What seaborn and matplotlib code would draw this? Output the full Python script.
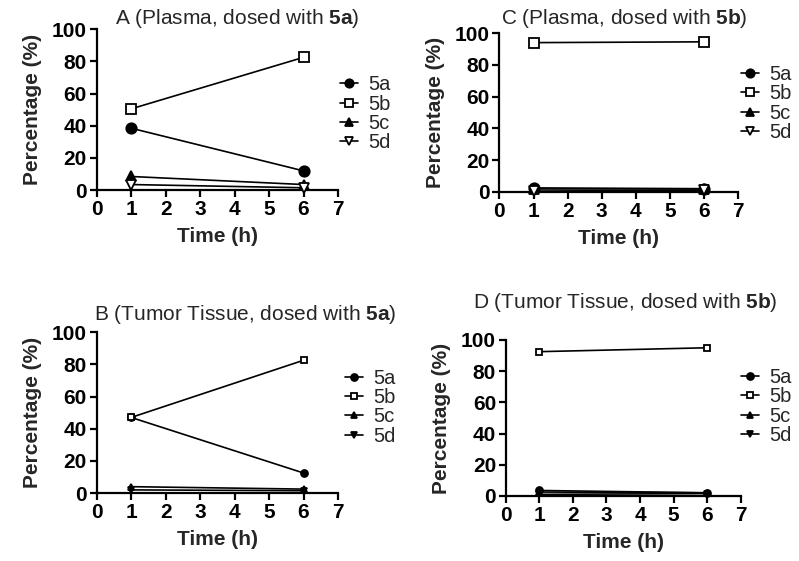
import matplotlib
matplotlib.use("Agg")
import matplotlib.pyplot as plt
import seaborn as sns
import pandas as pd

sns.set_theme(style="ticks")
plt.rcParams['font.family'] = ['Liberation Sans', 'DejaVu Sans']
plt.rcParams['mathtext.fontset'] = 'custom'
plt.rcParams['mathtext.rm'] = 'Liberation Sans'
plt.rcParams['mathtext.bf'] = 'Liberation Sans:bold'

times = [1, 6]
compounds = ["5a", "5b", "5c", "5d"]

# Panel A: plasma, dosed with 5a
A_5a = [38.5, 12.0]
A_5b = [50.5, 82.5]
A_5c = [8.5, 3.5]
A_5d = [3.5, 1.5]
# Panel C: plasma, dosed with 5b
C_5a = [2.5, 2.0]
C_5b = [94.0, 94.5]
C_5c = [2.0, 2.0]
C_5d = [0.5, 1.0]
# Panel B: tumor tissue, dosed with 5a
B_5a = [47.0, 12.5]
B_5b = [47.0, 82.5]
B_5c = [4.0, 2.5]
B_5d = [2.0, 1.5]
# Panel D: tumor tissue, dosed with 5b
D_5a = [3.5, 2.0]
D_5b = [92.5, 95.0]
D_5c = [2.5, 2.0]
D_5d = [1.0, 1.5]

titles = {
    "A": r"A (Plasma, dosed with $\mathbf{5a}$)",
    "C": r"C (Plasma, dosed with $\mathbf{5b}$)",
    "B": r"B (Tumor Tissue, dosed with $\mathbf{5a}$)",
    "D": r"D (Tumor Tissue, dosed with $\mathbf{5b}$)",
}
panel_data = {
    "A": [A_5a, A_5b, A_5c, A_5d],
    "C": [C_5a, C_5b, C_5c, C_5d],
    "B": [B_5a, B_5b, B_5c, B_5d],
    "D": [D_5a, D_5b, D_5c, D_5d],
}
positions = {
    "A": [0.121, 0.661, 0.302, 0.287],
    "C": [0.625, 0.658, 0.299, 0.283],
    "B": [0.121, 0.121, 0.302, 0.287],
    "D": [0.633, 0.116, 0.294, 0.278],
}
title_xy = {
    "A": (237 / 799, 1 - 18 / 561),
    "C": (624 / 799, 1 - 18 / 561),
    "B": (245 / 799, 1 - 315 / 561),
    "D": (625 / 799, 1 - 303 / 561),
}
legend_anchor = {
    "A": (0.426, 0.866),
    "C": (0.927, 0.884),
    "B": (0.432, 0.343),
    "D": (0.927, 0.344),
}
markers = ["o", "s", "^", "v"]
hollow_big = [False, True, False, True]
hollow_small = [False, True, False, False]

fig = plt.figure(figsize=(7.99, 5.61), dpi=100)

for key in ["A", "C", "B", "D"]:
    ax = fig.add_axes(positions[key])
    big = key in ("A", "C")
    ms = 7.5 if big else 5
    hollow = hollow_big if big else hollow_small
    for name, vals, mk, hol in zip(compounds, panel_data[key], markers, hollow):
        df = pd.DataFrame({"Time": times, "Pct": vals})
        sns.lineplot(data=df, x="Time", y="Pct", ax=ax, color="black",
                     marker=mk, markersize=ms, linewidth=1.2,
                     markerfacecolor="white" if hol else "black",
                     markeredgecolor="black", markeredgewidth=1.3,
                     label=name, clip_on=False, zorder=3)
    ax.set_xlim(0, 7)
    ax.set_ylim(0, 100)
    ax.set_xticks(range(0, 8))
    ax.set_yticks(range(0, 101, 20))
    for s in ["top", "right"]:
        ax.spines[s].set_visible(False)
    for s in ["left", "bottom"]:
        ax.spines[s].set_linewidth(1.6)
        ax.spines[s].set_color("black")
    ax.tick_params(axis="both", direction="out", length=5, width=1.6,
                   labelsize=15, colors="black", pad=2)
    for lab in ax.get_xticklabels() + ax.get_yticklabels():
        lab.set_fontweight("bold")
    ax.set_xlabel("Time (h)", fontsize=15, fontweight="bold", labelpad=6)
    ax.set_ylabel("Percentage (%)", fontsize=15, fontweight="bold", labelpad=7)
    fig.text(title_xy[key][0], title_xy[key][1], titles[key], fontsize=15,
             ha="center", va="center")
    ax.legend(loc="upper left", bbox_to_anchor=legend_anchor[key],
              bbox_transform=fig.transFigure, frameon=False, fontsize=14.5,
              handlelength=0.9, handletextpad=0.5, labelspacing=0.02,
              markerscale=0.8 if big else 1.0,
              borderaxespad=0, borderpad=0)

fig.savefig("out.png", dpi=100)
